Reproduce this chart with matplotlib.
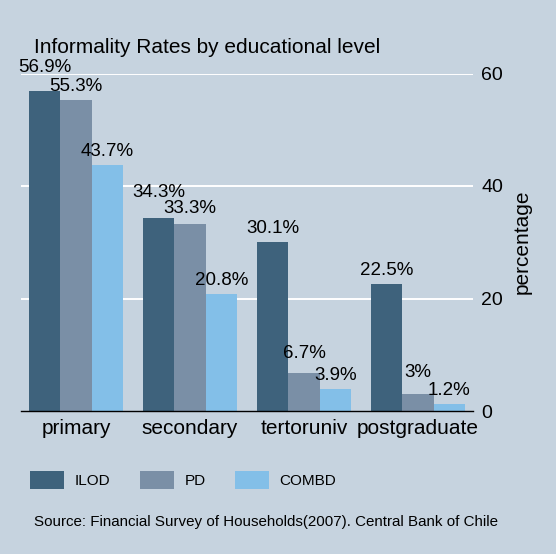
import numpy as np
import matplotlib
matplotlib.use("Agg")
import matplotlib.pyplot as plt

# data
levels = ["primary", "secondary", "tertoruniv", "postgraduate"]
ilod = [56.9, 34.3, 30.1, 22.5]
pd_ = [55.3, 33.3, 6.7, 3.0]
combd = [43.7, 20.8, 3.9, 1.2]
series_names = ["ILOD", "PD", "COMBD"]

# extra lift (px) for some value labels, as in the original figure
lift_ilod = [10, 12, 0, 0]
lift_pd = [0, 2, 6, 8]
lift_combd = [0, 0, 0, 0]

bg = "#C6D3DF"
colors = ["#3E627C", "#7A8FA6", "#83BFE8"]

plt.rcParams["font.family"] = ["Liberation Sans", "DejaVu Sans"]

fig = plt.figure(figsize=(5.56, 5.54), dpi=100, facecolor=bg)
ax = fig.add_axes([21/556, 1-411/554, (473-21)/556, (411-73.5)/554])
ax.set_facecolor(bg)

x = np.arange(len(levels))
w = 0.275
handles = []
for i, (vals, lifts) in enumerate(zip([ilod, pd_, combd], [lift_ilod, lift_pd, lift_combd])):
    pos = x + (i - 1) * w
    b = ax.bar(pos, vals, width=w, color=colors[i], zorder=3, label=series_names[i])
    handles.append(b)
    for px, v, lf in zip(pos, vals, lifts):
        lab = f"{v:g}%"
        ax.annotate(lab, (px, v), xytext=(0, (9 + lf) * 0.72), textcoords="offset points",
                    ha="center", va="baseline", fontsize=13.5, color="black",
                    annotation_clip=False, zorder=4)

ax.set_xlim(-0.482, 3.482)
ax.set_ylim(0, 60)
ax.set_yticks([0, 20, 40, 60])
ax.yaxis.tick_right()
ax.yaxis.set_label_position("right")
ax.tick_params(axis="y", length=0, pad=6, labelsize=14)
ax.tick_params(axis="x", length=0, pad=6, labelsize=15)
ax.set_xticks(x)
ax.set_xticklabels(levels)
ax.set_ylabel("percentage", fontsize=15, labelpad=7)
for yv in [20, 40, 60]:
    ax.axhline(yv, color="white", lw=1.4, zorder=1)
for s in ["top", "left", "right"]:
    ax.spines[s].set_visible(False)
ax.spines["bottom"].set_color("black")
ax.spines["bottom"].set_linewidth(1.0)
ax.spines["bottom"].set_zorder(5)

fig.text(34/556, 1-53/554, "Informality Rates by educational level", fontsize=15,
         ha="left", va="baseline")

fig.legend(handles=handles, labels=series_names, loc="center left",
           bbox_to_anchor=(30/556, 1-480/554), ncol=3, frameon=False,
           fontsize=11, handlelength=2.25, handleheight=1.46, handletextpad=0.69,
           columnspacing=1.9, borderpad=0, borderaxespad=0)

fig.text(34/556, 1-522/554, "Source: Financial Survey of Households(2007). Central Bank of Chile",
         fontsize=10.9, ha="left", va="center")

fig.savefig("out.png", dpi=100, facecolor=bg)
